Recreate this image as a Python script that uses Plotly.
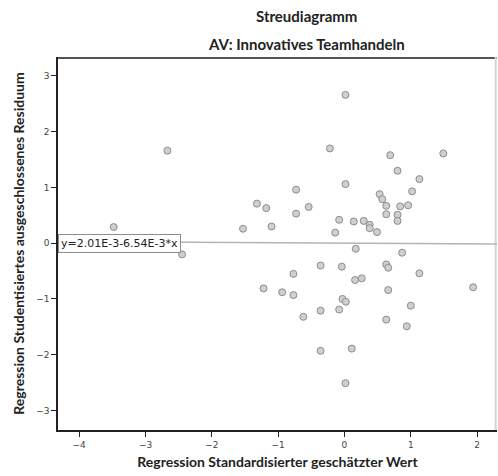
import plotly.graph_objects as go

# Standardised predicted values and studentised deleted residuals
pred_std = [-3.48, -2.67, -2.45, -1.53, -1.32, -1.18, -1.10, -1.22, 0.015, -0.22,
            0.69, 1.49, 0.80, 1.13, 1.02, -0.73, 0.015, -0.54, -0.73, 0.53,
            0.57, 0.63, 0.84, 0.96, 0.63, 0.80, 0.80, -0.08, 0.14, 0.29,
            0.38, 0.38, 0.49, -0.14, 0.17, 0.87, -0.36, -0.04, 0.63, 0.66,
            -0.77, 1.13, 0.16, 0.26, -0.94, -0.77, 0.66, 1.94, -0.03, 0.02,
            -0.08, -0.36, -0.62, 1.00, 0.63, 0.94, -0.36, 0.11, 0.015]
resid_stud = [0.29, 1.66, -0.20, 0.26, 0.71, 0.63, 0.30, -0.81, 2.66, 1.70,
              1.58, 1.61, 1.30, 1.15, 0.93, 0.96, 1.06, 0.65, 0.53, 0.88,
              0.79, 0.67, 0.66, 0.68, 0.52, 0.51, 0.40, 0.42, 0.39, 0.40,
              0.33, 0.27, 0.20, 0.19, -0.10, -0.17, -0.40, -0.42, -0.38, -0.44,
              -0.55, -0.54, -0.66, -0.63, -0.88, -0.93, -0.84, -0.79, -1.00, -1.05,
              -1.19, -1.21, -1.32, -1.12, -1.37, -1.49, -1.93, -1.89, -2.51]

# Fit line coefficients
intercept = 2.01e-3
slope = -6.54e-3

x_range = [-4.32, 2.30]
y_range = [-3.35, 3.34]
x_ticks = [-4, -3, -2, -1, 0, 1, 2]
y_ticks = [-3, -2, -1, 0, 1, 2, 3]

fig = go.Figure()

# Frame edges inside the plot area: dark top edge, light right edge
edge_in = 0.02
fig.add_trace(go.Scatter(
    x=x_range, y=[y_range[1] - edge_in] * 2,
    mode="lines", line=dict(color="#555555", width=2),
    hoverinfo="skip", showlegend=False,
))
fig.add_trace(go.Scatter(
    x=[x_range[1] - edge_in] * 2, y=y_range,
    mode="lines", line=dict(color="#d4d4d4", width=2),
    hoverinfo="skip", showlegend=False,
))

fig.add_trace(go.Scatter(
    x=x_range,
    y=[intercept + slope * v for v in x_range],
    mode="lines",
    line=dict(color="#b4b4b4", width=1.5),
    hoverinfo="skip",
    showlegend=False,
))

fig.add_trace(go.Scatter(
    x=pred_std, y=resid_stud,
    mode="markers",
    marker=dict(size=7, color="#cfcfcf", line=dict(color="#8c8c8c", width=1)),
    showlegend=False,
))

# Fit line equation label
fig.add_annotation(
    x=x_range[0], y=intercept, xref="x", yref="y",
    xanchor="left", yanchor="middle",
    text="y=2.01E-3-6.54E-3*x",
    showarrow=False,
    font=dict(family="DejaVu Sans", size=11, color="#222222"),
    bgcolor="white", bordercolor="#8c8c8c", borderwidth=1, borderpad=2,
)

title_font = dict(family="Lato", size=15, color="#222222")
fig.add_annotation(x=0.565, y=1, xref="paper", yref="paper",
                   yanchor="bottom", yshift=2,
                   text="<b>AV: Innovatives Teamhandeln</b>",
                   showarrow=False, font=title_font)
fig.add_annotation(x=0.565, y=1, xref="paper", yref="paper",
                   yanchor="bottom", yshift=30,
                   text="<b>Streudiagramm</b>",
                   showarrow=False, font=title_font)

fig.update_layout(
    width=498, height=476,
    margin=dict(l=58, r=1, t=57, b=46),
    paper_bgcolor="white", plot_bgcolor="white",
    showlegend=False,
    font=dict(family="DejaVu Sans", size=9, color="#444444"),
)

fig.update_xaxes(
    range=x_range, tickvals=x_ticks,
    ticks="outside", ticklen=5, tickcolor="#222222",
    showline=True, linecolor="#222222", linewidth=1.5,
    showgrid=False, zeroline=False,
    title=dict(text="<b>Regression Standardisierter geschätzter Wert</b>",
               font=dict(family="Lato", size=14, color="#222222"), standoff=9),
)
fig.update_yaxes(
    range=y_range, tickvals=y_ticks,
    ticks="outside", ticklen=5, tickcolor="#222222",
    showline=True, linecolor="#222222", linewidth=1.5,
    showgrid=False, zeroline=False,
    title=dict(text="<b>Regression Studentisiertes ausgeschlossenes Residuum</b>",
               font=dict(family="Lato", size=14, color="#222222"), standoff=8),
)

fig.write_html("out.html")
